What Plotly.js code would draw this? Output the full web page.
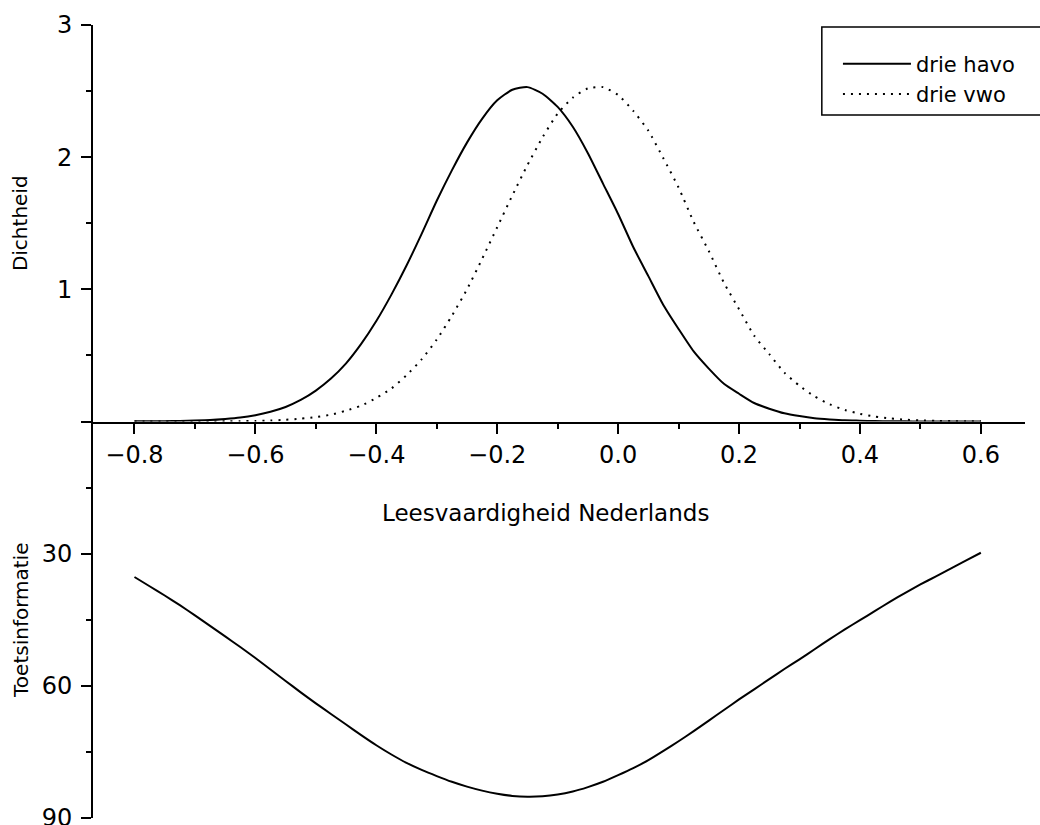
<!DOCTYPE html>
<html>
<head>
<meta charset="utf-8">
<script src="https://cdn.plot.ly/plotly-3.0.1.min.js"></script>
<style>
  html, body { margin: 0; padding: 0; background: #fff; }
  #chart { width: 1040px; height: 825px; }
</style>
</head>
<body>
<div id="chart"></div>
<script>
// Ability grid (Leesvaardigheid Nederlands)
const theta = [-0.800, -0.775, -0.750, -0.725, -0.700, -0.675, -0.650, -0.625, -0.600, -0.575,
               -0.550, -0.525, -0.500, -0.475, -0.450, -0.425, -0.400, -0.375, -0.350, -0.325,
               -0.300, -0.275, -0.250, -0.225, -0.200, -0.175, -0.150, -0.125, -0.100, -0.075,
               -0.050, -0.025, 0.000, 0.025, 0.050, 0.075, 0.100, 0.125, 0.150, 0.175,
               0.200, 0.225, 0.250, 0.275, 0.300, 0.325, 0.350, 0.375, 0.400, 0.425,
               0.450, 0.475, 0.500, 0.525, 0.550, 0.575, 0.600];

// Density, drie havo (solid)
const densHavo = [0.001, 0.001, 0.002, 0.004, 0.007, 0.011, 0.019, 0.030, 0.048, 0.074,
                  0.11, 0.163, 0.234, 0.325, 0.44, 0.587, 0.76, 0.96, 1.18, 1.42,
                  1.67, 1.90, 2.11, 2.29, 2.43, 2.51, 2.53, 2.48, 2.38, 2.23,
                  2.03, 1.80, 1.57, 1.32, 1.10, 0.88, 0.70, 0.53, 0.40, 0.285,
                  0.21, 0.140, 0.097, 0.062, 0.041, 0.025, 0.016, 0.009, 0.006, 0.003,
                  0.002, 0.001, 0.0005, 0.0002, 0.0001, 0.0, 0.0];

// Density, drie vwo (dotted)
const densVwo = [0.0, 0.0, 0.0001, 0.0002, 0.0004, 0.0007, 0.0013, 0.0024, 0.004, 0.0074,
                 0.013, 0.021, 0.034, 0.052, 0.082, 0.12, 0.178, 0.25, 0.35, 0.47,
                 0.62, 0.80, 1.00, 1.23, 1.47, 1.71, 1.94, 2.15, 2.33, 2.45,
                 2.52, 2.53, 2.47, 2.35, 2.20, 1.99, 1.77, 1.51, 1.29, 1.05,
                 0.85, 0.65, 0.51, 0.37, 0.27, 0.19, 0.13, 0.087, 0.058, 0.037,
                 0.023, 0.014, 0.008, 0.005, 0.003, 0.0015, 0.001];

// Test information (Toetsinformatie)
const info = [35.3, 37.4, 39.5, 41.7, 44.0, 46.4, 48.8, 51.2, 53.7, 56.3,
              58.9, 61.5, 64.0, 66.4, 68.8, 71.2, 73.5, 75.6, 77.5, 79.1,
              80.5, 81.8, 82.9, 83.8, 84.5, 85.0, 85.2, 85.1, 84.7, 84.0,
              83.0, 81.8, 80.3, 78.7, 76.9, 74.8, 72.6, 70.3, 67.9, 65.5,
              63.1, 60.8, 58.5, 56.2, 54.0, 51.7, 49.4, 47.2, 45.1, 43.0,
              40.9, 38.9, 37.0, 35.2, 33.4, 31.6, 29.8];

const seriesNames = ['drie havo', 'drie vwo'];
const densTicks = [0, 1, 2, 3];
const densTickText = ['', '1', '2', '3'];
const infoTicks = [0, 30, 60, 90];
const infoTickText = ['', '30', '60', '90'];

const FONT = 'DejaVu Sans, sans-serif';

const traces = [
  { x: theta, y: densHavo, type: 'scatter', mode: 'lines', name: seriesNames[0],
    xaxis: 'x', yaxis: 'y',
    line: { color: '#000', width: 2, shape: 'spline', smoothing: 0.6 } },
  { x: theta, y: densVwo, type: 'scatter', mode: 'lines', name: seriesNames[1],
    xaxis: 'x', yaxis: 'y',
    line: { color: '#000', width: 2, dash: '2px,6px', shape: 'spline', smoothing: 0.6 } },
  { x: theta, y: info, type: 'scatter', mode: 'lines', name: 'Toetsinformatie',
    xaxis: 'x', yaxis: 'y2', showlegend: false,
    line: { color: '#000', width: 2, shape: 'spline', smoothing: 0.6 } }
];

const axisCommon = {
  showgrid: false, zeroline: false, showline: true, linecolor: '#000', linewidth: 2,
  ticks: 'outside', ticklen: 10, tickwidth: 2, tickcolor: '#000',
  ticklabeloverflow: 'allow',
  tickfont: { family: FONT, size: 24, color: '#000' }
};

const layout = {
  width: 1040, height: 825,
  margin: { l: 93, r: 15, t: 25, b: 7, pad: 0 },
  paper_bgcolor: '#fff', plot_bgcolor: '#fff',
  font: { family: FONT, color: '#000' },
  showlegend: true,
  legend: {
    x: 0.7993, y: 0.9765, xanchor: 'left', yanchor: 'top',
    bgcolor: 'rgba(0,0,0,0)', borderwidth: 0,
    font: { family: FONT, size: 21, color: '#000' },
    itemwidth: 68, tracegroupgap: 0
  },
  xaxis: Object.assign({}, axisCommon, {
    anchor: 'y', domain: [0, 1],
    range: [-0.8686, 0.673],
    tick0: -0.8, dtick: 0.2, tickformat: '.1f',
    ticklabelstandoff: 1,
    minor: { dtick: 0.1, tick0: -0.8, ticks: 'outside', ticklen: 5, tickwidth: 2, tickcolor: '#000', showgrid: false }
  }),
  yaxis: Object.assign({}, axisCommon, {
    anchor: 'x', domain: [0.5, 1], range: [0, 3],
    tickmode: 'array', tickvals: densTicks, ticktext: densTickText,
    minor: { tickvals: [0.5, 1.5, 2.5], ticks: 'outside', ticklen: 5, tickwidth: 2, tickcolor: '#000', showgrid: false },
    ticklabelstandoff: 4,
    title: { text: 'Dichtheid', font: { family: FONT, size: 20, color: '#000' }, standoff: 24 }
  }),
  yaxis2: Object.assign({}, axisCommon, {
    anchor: 'x', domain: [0, 0.5], range: [90.02, 0],
    tickmode: 'array', tickvals: infoTicks, ticktext: infoTickText,
    minor: { tickvals: [15, 45, 75], ticks: 'outside', ticklen: 5, tickwidth: 2, tickcolor: '#000', showgrid: false },
    ticklabelstandoff: 4,
    title: { text: 'Toetsinformatie', font: { family: FONT, size: 20, color: '#000' }, standoff: 8 }
  }),
  annotations: [
    { text: 'Leesvaardigheid Nederlands', xref: 'paper', yref: 'paper',
      x: 0.485, y: 0.3846, xanchor: 'center', yanchor: 'middle', showarrow: false,
      font: { family: FONT, size: 23, color: '#000' } }
  ],
  shapes: [
    { type: 'rect', xref: 'paper', yref: 'paper', x0: 0.782, x1: 1.06, y0: 0.8865, y1: 0.9975,
      line: { color: '#000', width: 1.5 }, fillcolor: 'rgba(0,0,0,0)', layer: 'above' }
  ]
};

Plotly.newPlot('chart', traces, layout, { displayModeBar: false, staticPlot: true });
</script>
</body>
</html>
